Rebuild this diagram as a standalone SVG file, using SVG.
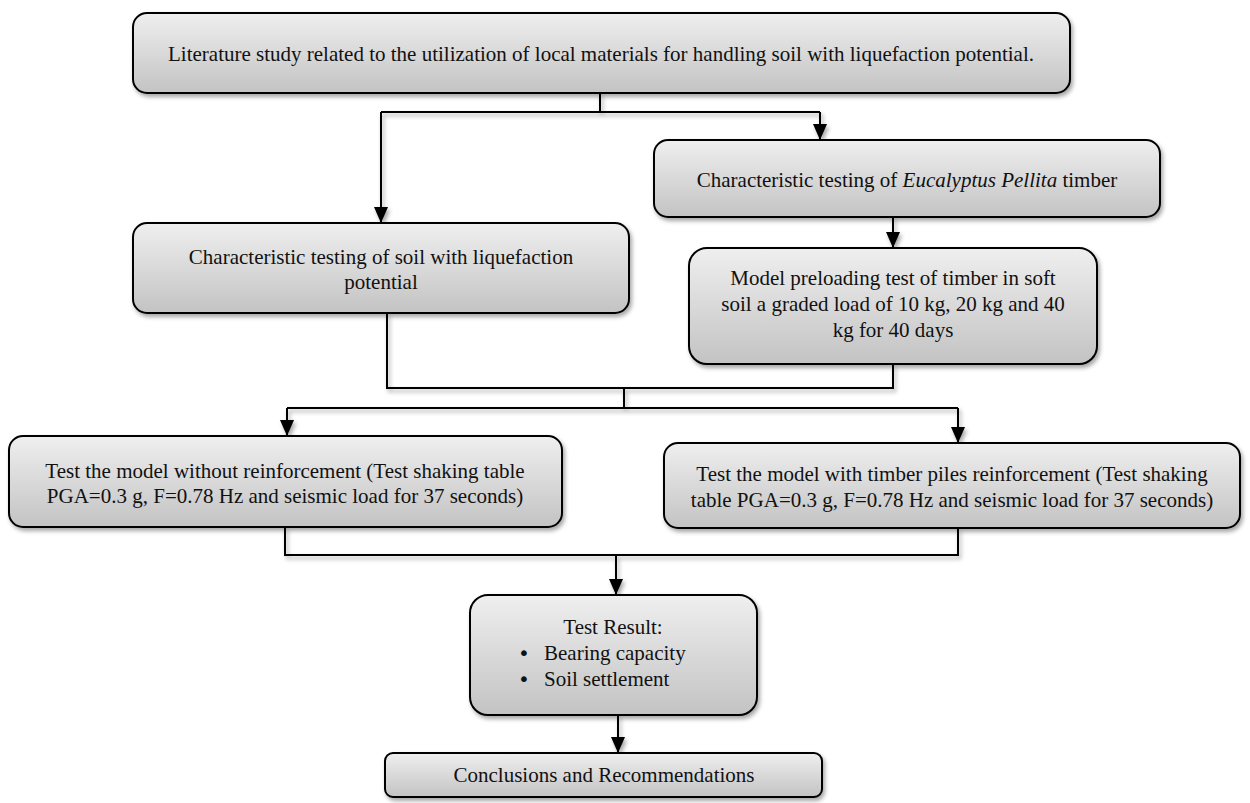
<svg xmlns="http://www.w3.org/2000/svg" width="1250" height="803" viewBox="0 0 1250 803">
<defs>
<linearGradient id="g" x1="0" y1="0" x2="0" y2="1">
<stop offset="0" stop-color="#efefef"/>
<stop offset="1" stop-color="#c3c3c3"/>
</linearGradient>
<filter id="sh" x="-5%" y="-10%" width="112%" height="130%">
<feDropShadow dx="2" dy="3" stdDeviation="2" flood-color="#000" flood-opacity="0.35"/>
</filter>
<marker id="ah" markerUnits="userSpaceOnUse" markerWidth="16" markerHeight="14" refX="16" refY="7" orient="auto" viewBox="0 0 16 14">
<path d="M0,0 L16,7 L0,14 Z" fill="#000"/>
</marker>
</defs>
<style>
.box{fill:url(#g);stroke:#000;stroke-width:2;filter:url(#sh)}
.t{font-family:"Liberation Serif","Times New Roman",serif;font-size:21px;fill:#111;text-anchor:middle}
.tl{font-family:"Liberation Serif","Times New Roman",serif;font-size:21px;fill:#111}
.b{font-family:"DejaVu Sans",sans-serif;font-size:20px;fill:#111}
.c{fill:none;stroke:#000;stroke-width:2}
.a{fill:none;stroke:#000;stroke-width:2}
</style>
<g id="connectors" filter="url(#sh)">
<path class="c" d="M600,93 V112 M381,112 H820"/>
<line class="a" x1="381" y1="112" x2="381" y2="223" marker-end="url(#ah)"/>
<line class="a" x1="820" y1="112" x2="820" y2="140" marker-end="url(#ah)"/>
<line class="a" x1="893" y1="217" x2="893" y2="248" marker-end="url(#ah)"/>
<path class="c" d="M387,313 V388 H893 V364 M624,388 V408 M287,408 H958"/>
<line class="a" x1="287" y1="408" x2="287" y2="436" marker-end="url(#ah)"/>
<line class="a" x1="958" y1="408" x2="958" y2="443" marker-end="url(#ah)"/>
<path class="c" d="M285,527 V555 H958 V528"/>
<line class="a" x1="616" y1="555" x2="616" y2="595" marker-end="url(#ah)"/>
<line class="a" x1="618" y1="715" x2="618" y2="753" marker-end="url(#ah)"/>
</g>
<g id="n1">
<rect class="box" x="133" y="13" width="937" height="80" rx="14"/>
<text class="t" x="601" y="61">Literature study related to the utilization of local materials for handling soil with liquefaction potential.</text>
</g>
<g id="n2">
<rect class="box" x="654" y="140" width="506" height="77" rx="14"/>
<text class="t" x="907" y="187">Characteristic testing of <tspan font-style="italic">Eucalyptus Pellita</tspan> timber</text>
</g>
<g id="n3">
<rect class="box" x="133" y="223" width="496" height="90" rx="14"/>
<text class="t" x="381" y="264">Characteristic testing of soil with liquefaction</text>
<text class="t" x="381" y="289">potential</text>
</g>
<g id="n4">
<rect class="box" x="689" y="248" width="408" height="116" rx="18"/>
<text class="t" x="893" y="285">Model preloading test of timber in soft</text>
<text class="t" x="893" y="311">soil a graded load of 10 kg, 20 kg and 40</text>
<text class="t" x="893" y="337">kg for 40 days</text>
</g>
<g id="n5">
<rect class="box" x="9" y="436" width="553" height="91" rx="14"/>
<text class="t" x="285" y="478">Test the model without reinforcement (Test shaking table</text>
<text class="t" x="285" y="503">PGA=0.3 g, F=0.78 Hz and seismic load for 37 seconds)</text>
</g>
<g id="n6">
<rect class="box" x="664" y="443" width="576" height="85" rx="14"/>
<text class="t" x="952" y="481">Test the model with timber piles reinforcement (Test shaking</text>
<text class="t" x="952" y="507">table PGA=0.3 g, F=0.78 Hz and seismic load for 37 seconds)</text>
</g>
<g id="n7">
<rect class="box" x="470" y="595" width="287" height="120" rx="18"/>
<text class="t" x="613" y="634">Test Result:</text>
<text class="b" x="518" y="660">•</text>
<text class="tl" x="544" y="660">Bearing capacity</text>
<text class="b" x="518" y="686">•</text>
<text class="tl" x="544" y="686">Soil settlement</text>
</g>
<g id="n8">
<rect class="box" x="385" y="753" width="437" height="44" rx="8"/>
<text class="t" x="604" y="782">Conclusions and Recommendations</text>
</g>
</svg>
